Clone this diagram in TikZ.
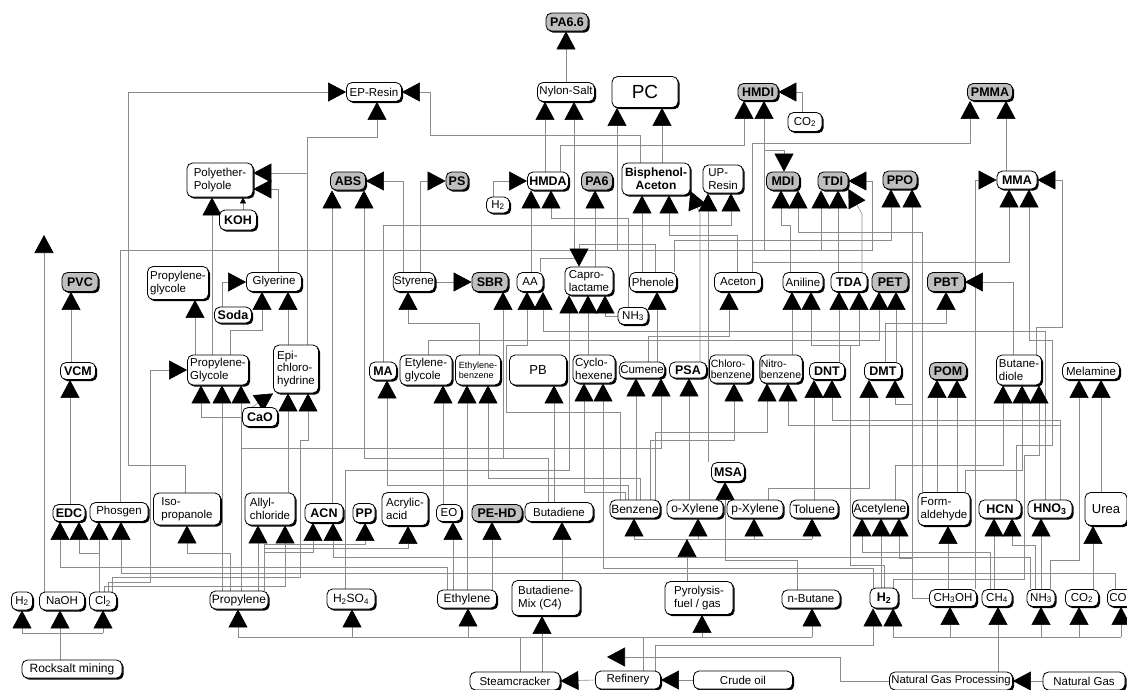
\documentclass[tikz,border=0pt]{standalone}
\usepackage{fontspec}
\setmainfont{Liberation Sans}
\usetikzlibrary{arrows.meta,shadows,backgrounds}
\tikzset{
  nbox/.style={draw=black, line width=0.8pt, rounded corners=5.5pt, fill=white, inner sep=1pt, align=left,
    font=\fontsize{11.5}{12.5}\selectfont,
    general shadow={shadow xshift=1.7pt, shadow yshift=-1.7pt, fill=black}},
  pbox/.style={nbox, fill=black!25},
  bb/.style={font=\bfseries\fontsize{12.5}{13.5}\selectfont},
  bigf/.style={font=\fontsize{12}{13}\selectfont},
  sz/.style 2 args={minimum width=#1pt, minimum height=#2pt},
  conn/.style={draw=black!45, line width=0.6pt, -{Triangle[length=18pt,width=19pt,color=black]}},
  wire/.style={draw=black!45, line width=0.6pt},
  smallarr/.style={draw=black!45, line width=0.6pt, -{Triangle[length=6pt,width=6pt,color=black]}},
}
\begin{document}
\begin{tikzpicture}[x=1pt,y=-1pt]
\useasboundingbox (0,0) rectangle (1127,689);
% ---------- row 1
\node[pbox,bb,sz={42}{18}] (PA66) at (567,22) {PA6.6};
\node[nbox,sz={55}{19}] (EPR) at (374,92) {EP-Resin};
\node[nbox,sz={57}{19}] (NYL) at (566,92) {Nylon-Salt};
\node[nbox,sz={66}{31},font=\fontsize{19}{20}\selectfont,align=center] (PC) at (645,92) {PC};
\node[pbox,bb,sz={40}{17}] (HMDI) at (758,92) {HMDI};
\node[nbox,sz={34}{19}] (CO2a) at (805,122) {CO\textsubscript{2}};
\node[pbox,bb,sz={45}{17}] (PMMA) at (990,92) {PMMA};
% ---------- row 2
\node[nbox,sz={66}{34}] (PEP) at (220,180) {Polyether-\\Polyole};
\node[nbox,bb,sz={37}{20}] (KOH) at (238,220) {KOH};
\node[pbox,bb,sz={35}{18}] (ABS) at (348,181) {ABS};
\node[pbox,bb,sz={22}{18}] (PS) at (457,181) {PS};
\node[nbox,bb,sz={41}{18}] (HMDA) at (548,181) {HMDA};
\node[nbox,sz={23}{16}] (H2a) at (498,205) {H\textsubscript{2}};
\node[pbox,bb,sz={31}{18}] (PA6) at (597,181) {PA6};
\node[nbox,sz={68}{32},align=center,font=\bfseries\fontsize{12}{13}\selectfont] (BPA) at (656,179) {Bisphenol-\\Aceton};
\node[nbox,sz={40}{28}] (UPR) at (723,179) {UP-\\Resin};
\node[pbox,bb,sz={33}{18}] (MDI) at (783,181) {MDI};
\node[pbox,bb,sz={30}{18}] (TDI) at (833,181) {TDI};
\node[pbox,bb,sz={34}{18}] (PPO) at (900,180) {PPO};
\node[nbox,bb,sz={40}{18}] (MMA) at (1017,180) {MMA};
% ---------- row 3
\node[pbox,bb,sz={36}{19}] (PVC) at (80,282) {PVC};
\node[nbox,sz={61}{33}] (PGa) at (178,283) {Propylene-\\glycole};
\node[nbox,sz={55}{19}] (GLY) at (274,282) {Glyerine};
\node[nbox,bb,sz={37}{16}] (SODA) at (233,315) {Soda};
\node[nbox,sz={40}{19}] (STY) at (414,282) {Styrene};
\node[pbox,bb,sz={36}{19}] (SBR) at (490,282) {SBR};
\node[nbox,sz={26}{19}] (AA) at (530,282) {AA};
\node[nbox,sz={48}{28}] (CAP) at (589,281) {Capro-\\lactame};
\node[nbox,sz={30}{17}] (NH3a) at (633,316) {NH\textsubscript{3}};
\node[nbox,sz={47}{19}] (PHE) at (653,282) {Phenole};
\node[nbox,sz={47}{19}] (ACE) at (738,282) {Aceton};
\node[nbox,sz={40}{19}] (ANI) at (803,282) {Aniline};
\node[nbox,bb,sz={36}{19}] (TDA) at (849,282) {TDA};
\node[pbox,bb,sz={36}{19}] (PET) at (890,282) {PET};
\node[pbox,bb,sz={37}{19}] (PBT) at (946,282) {PBT};
% ---------- row 4
\node[nbox,bb,sz={35}{17}] (VCM) at (78,371) {VCM};
\node[nbox,sz={61}{30}] (PGb) at (218,370) {Propylene-\\Glycole};
\node[nbox,sz={45}{48}] (EPI) at (296,369) {Epi-\\chloro-\\hydrine};
\node[nbox,bb,sz={35}{19}] (CAO) at (260,417) {CaO};
\node[nbox,bb,sz={27}{18}] (MA) at (383,371) {MA};
\node[nbox,sz={52}{30}] (EG) at (426,370) {Etylene-\\glycole};
\node[nbox,sz={45}{30},font=\fontsize{9}{10}\selectfont] (EB) at (478,370) {Ethylene-\\benzene};
\node[nbox,sz={57}{30},align=center,font=\fontsize{13}{14}\selectfont] (PB) at (538,370) {PB};
\node[nbox,sz={42}{28}] (CYC) at (594,369) {Cyclo-\\hexene};
\node[nbox,sz={45}{16}] (CUM) at (642,370) {Cumene};
\node[nbox,bb,sz={37}{16}] (PSA) at (688,370) {PSA};
\node[nbox,sz={43}{28},font=\fontsize{10.5}{11.5}\selectfont] (CLB) at (731,369) {Chloro-\\benzene};
\node[nbox,sz={42}{28},font=\fontsize{10.5}{11.5}\selectfont] (NIB) at (781,369) {Nitro-\\benzene};
\node[nbox,bb,sz={35}{17}] (DNT) at (827,371) {DNT};
\node[nbox,bb,sz={37}{17}] (DMT) at (883,371) {DMT};
\node[pbox,bb,sz={37}{17}] (POM) at (948,371) {POM};
\node[nbox,sz={45}{30}] (BDO) at (1019,370) {Butane-\\diole};
\node[nbox,sz={57}{17}] (MEL) at (1091,371) {Melamine};
\node[nbox,bb,sz={33}{19}] (MSA) at (728,472) {MSA};
% ---------- row 5
\node[nbox,bb,sz={32}{17}] (EDC) at (69,513) {EDC};
\node[nbox,sz={58}{19}] (PHO) at (119,512) {Phosgen};
\node[nbox,sz={67}{32}] (IPA) at (187,509) {Iso-\\propanole};
\node[nbox,sz={50}{32}] (ALC) at (270,509) {Allyl-\\chloride};
\node[nbox,bb,sz={38}{19}] (ACN) at (324,513) {ACN};
\node[nbox,bb,sz={22}{19}] (PP) at (364,513) {PP};
\node[nbox,sz={46}{33}] (ACR) at (405,509) {Acrylic-\\acid};
\node[nbox,sz={25}{17}] (EO) at (449,513) {EO};
\node[pbox,bb,sz={50}{17}] (PEHD) at (497,513) {PE-HD};
\node[nbox,sz={68}{19}] (BUT) at (559,512) {Butadiene};
\node[nbox,bigf,sz={50}{18}] (BEN) at (635,509) {Benzene};
\node[nbox,bigf,sz={56}{18}] (OXY) at (695,509) {o-Xylene};
\node[nbox,bigf,sz={56}{18}] (PXY) at (755,509) {p-Xylene};
\node[nbox,bigf,sz={48}{18}] (TOL) at (814,509) {Toluene};
\node[nbox,bigf,sz={55}{18}] (ACT) at (880,509) {Acetylene};
\node[nbox,sz={52}{33}] (FOR) at (944,509) {Form-\\aldehyde};
\node[nbox,bb,sz={42}{18}] (HCN) at (1000,509) {HCN};
\node[nbox,bb,sz={44}{18}] (HNO3) at (1050,509) {HNO\textsubscript{3}};
\node[nbox,sz={42}{33},align=center,font=\fontsize{13}{14}\selectfont] (UREA) at (1106,509) {Urea};
% ---------- row 6
\node[nbox,sz={21}{18}] (H2b) at (22,601) {H\textsubscript{2}};
\node[nbox,sz={45}{18}] (NAOH) at (62,601) {NaOH};
\node[nbox,sz={27}{18}] (CL2) at (103,601) {Cl\textsubscript{2}};
\node[nbox,sz={100}{18},font=\fontsize{12}{13}\selectfont] (ROCK) at (72,669) {Rocksalt mining};
\node[nbox,bigf,sz={58}{18}] (PROP) at (239,600) {Propylene};
\node[nbox,bigf,sz={48}{20}] (H2SO4) at (351,599) {H\textsubscript{2}SO\textsubscript{4}};
\node[nbox,bigf,sz={59}{18}] (ETH) at (467,599) {Ethylene};
\node[nbox,sz={68}{35}] (BMIX) at (546,598) {Butadiene-\\Mix (C4)};
\node[nbox,sz={68}{33}] (PYR) at (699,598) {Pyrolysis-\\fuel / gas};
\node[nbox,sz={58}{18}] (NBU) at (811,599) {n-Butane};
\node[nbox,bb,sz={28}{20}] (H2c) at (884,598) {H\textsubscript{2}};
\node[nbox,sz={47}{17}] (MEOH) at (953,598) {CH\textsubscript{3}OH};
\node[nbox,sz={30}{17}] (CH4) at (997,598) {CH\textsubscript{4}};
\node[nbox,sz={28}{17}] (NH3b) at (1041,598) {NH\textsubscript{3}};
\node[nbox,sz={33}{17}] (CO2b) at (1082,598) {CO\textsubscript{2}};
\node[nbox,minimum height=17pt,text width=30pt,inner sep=2pt,anchor=west] (CO) at (1107,598) {CO};
% ---------- row 7
\node[nbox,sz={90}{18}] (STC) at (515,681) {Steamcracker};
\node[nbox,sz={65}{18}] (REF) at (628,680) {Refinery};
\node[nbox,sz={99}{18}] (CRU) at (743,680) {Crude oil};
\node[nbox,sz={123}{18},font=\fontsize{11.3}{12}\selectfont] (NGP) at (951,681) {Natural Gas Processing};
\node[nbox,sz={82}{18}] (NG) at (1084,681) {Natural Gas};
% ---------- free ends
\coordinate (lone) at (44,235);
\coordinate (rk) at (60,633);
\coordinate (arb) at (687,539);
\coordinate (b3) at (643,637);
\coordinate (b4) at (893,637);
\coordinate (la) at (607,657);

\begin{scope}[on background layer]
\fill[white] (0,0) rectangle (1127,689);
% top
\draw[conn] (566,0 |- NYL.north) -- (566,0 |- PA66.south);
\draw[conn] (545,0 |- HMDA.north) -- (545,0 |- NYL.south);
\draw[conn] (540,0 |- AA.north) -- (540,258) -- (574,258) -- (574,0 |- NYL.south);
\draw[conn] (185,0 |- IPA.north) -- (185,465) -- (128,465) -- (128,92) -- (EPR.west);
\draw[conn] (640,0 |- BPA.north) -- (640,135) -- (430,135) -- (430,92) -- (EPR.east);
\draw[conn] (307,0 |- EPI.north) -- (307,137) -- (377,137) -- (377,0 |- EPR.south);
\draw[conn] (662,0 |- BPA.north) -- (662,0 |- PC.south);
\draw[conn] (120,0 |- PHO.north) -- (120,250) -- (617,250) -- (617,0 |- PC.south);
\draw[conn] (120,0 |- PHO.north) -- (120,250) -- (764,250) -- (764,0 |- HMDI.south);
\draw[conn] (560,0 |- HMDA.north) -- (560,145) -- (744,145) -- (744,0 |- HMDI.south);
\draw[conn] (120,0 |- PHO.north) -- (120,250) -- (764,250) -- (764,150) -- (784,150) -- (784,0 |- MDI.north);
\draw[conn] (120,0 |- PHO.north) -- (120,250) -- (821,250) -- (821,0 |- TDI.south);
\draw[conn] (120,0 |- PHO.north) -- (120,250) -- (872,250) -- (872,181) -- (TDI.east);
\draw[conn] (802,0 |- CO2a.north) -- (802,92) -- (HMDI.east);
\draw[conn] (752,0 |- ACE.north) -- (752,143) -- (970,143) -- (970,0 |- PMMA.south);
\draw[conn] (1006,0 |- MMA.north) -- (1006,0 |- PMMA.south);
% row 2 targets
\draw[conn] (212,0 |- PGb.north) -- (212,0 |- PEP.south);
\draw[smallarr] (243,0 |- KOH.north) -- (243,0 |- PEP.south);
\draw[conn] (307,0 |- EPI.north) -- (307,173) -- ([yshift=7pt]PEP.east);
\draw[conn] (278,0 |- GLY.north) -- (278,189) -- ([yshift=-9pt]PEP.east);
\draw[conn] (403,0 |- STY.north) -- (403,181) -- (ABS.east);
\draw[conn] (420,0 |- STY.north) -- (420,181) -- (PS.west);
\draw[conn] (332,0 |- ACN.north) -- (332,0 |- ABS.south);
\draw[conn] (548,0 |- BUT.north) -- (548,458) -- (364,458) -- (364,0 |- ABS.south);
\draw[conn] (493,0 |- H2a.north) -- (493,181) -- (HMDA.west);
\draw[conn] (531,0 |- AA.north) -- (531,0 |- HMDA.south);
\draw[conn] (628,0 |- NH3a.north) -- (628,218) -- (551,218) -- (551,0 |- HMDA.south);
\draw[conn] (595,0 |- CAP.north) -- (595,0 |- PA6.south);
\draw[conn] (642,0 |- PHE.north) -- (642,0 |- BPA.south);
\draw[conn] (737,0 |- ACE.north) -- (737,235) -- (669,235) -- (669,0 |- BPA.south);
\draw[conn] (700,0 |- PSA.north) -- (700,214) -- ([yshift=-12pt]BPA.east);
\draw[conn] (708,0 |- MSA.north) -- (708,0 |- UPR.south);
\draw[conn] (383,0 |- MA.north) -- (383,225) -- (731,225) -- (731,0 |- UPR.south);
\draw[conn] (790,0 |- ANI.north) -- (790,225) -- (781,225) -- (781,0 |- MDI.south);
\draw[conn] (922,0 |- FOR.north) -- (922,232) -- (798,232) -- (798,0 |- MDI.south);
\draw[conn] (838,0 |- TDA.north) -- (838,0 |- TDI.south);
\draw[conn] (862,0 |- TDA.north) -- (862,214) -- ([yshift=-8pt]TDI.east);
\draw[conn] (674,0 |- PHE.north) -- (674,240) -- (891,240) -- (891,0 |- PPO.south);
\draw[conn] (MEOH.west) -- (912,598) -- (912,0 |- PPO.south);
\draw[conn] (752,0 |- ACE.north) -- (752,262) -- (1009,262) -- (1009,0 |- MMA.south);
\draw[conn] (1016,0 |- HCN.north) -- (1016,445) -- (1052,445) -- (1052,340) -- (1029,340) -- (1029,0 |- MMA.south);
\draw[conn] (1036,0 |- BDO.north) -- (1036,327) -- (1062,327) -- (1062,180) -- (MMA.east);
\draw[conn] (975,0 |- MEOH.north) -- (975,180) -- (MMA.west);
% row 3 targets
\draw[conn] (71,0 |- VCM.north) -- (71,0 |- PVC.south);
\draw[conn] (195,0 |- PGb.north) -- (195,0 |- PGa.south);
\draw[conn] (222,0 |- SODA.north) -- (222,282) -- (GLY.west);
\draw[conn] (230,0 |- PGb.north) -- (230,330) -- (262,330) -- (262,0 |- GLY.south);
\draw[conn] (288,0 |- EPI.north) -- (288,0 |- GLY.south);
\draw[conn] (479,0 |- EB.north) -- (479,323) -- (408,323) -- (408,0 |- STY.south);
\draw[conn] (STY.east) -- (SBR.west);
\draw[conn] (548,0 |- BUT.north) -- (548,458) -- (503,458) -- (503,0 |- SBR.south);
\draw[conn] (620,0 |- BEN.north) -- (620,412) -- (506,412) -- (506,345) -- (527,345) -- (527,0 |- AA.south);
\draw[conn] (1045,0 |- HNO3.north) -- (1045,331) -- (543,331) -- (543,0 |- AA.south);
\draw[conn] (NH3a.west) -- (605,316) -- (605,0 |- CAP.south);
\draw[conn] (588,0 |- CYC.north) -- (588,0 |- CAP.south);
\draw[conn] (345,0 |- H2SO4.north) -- (345,470) -- (569,470) -- (569,0 |- CAP.south);
\draw[conn] (655,0 |- PHE.north) -- (655,244) -- (579,244) -- (579,0 |- CAP.north);
\draw[conn] (657,0 |- CUM.north) -- (657,0 |- PHE.south);
\draw[conn] (648,0 |- CUM.north) -- (648,336) -- (729,336) -- (729,0 |- ACE.south);
\draw[conn] (792,0 |- NIB.north) -- (792,0 |- ANI.south);
\draw[conn] (884,0 |- H2c.north) -- (884,565) -- (850,565) -- (850,345) -- (811,345) -- (811,0 |- ANI.south);
\draw[conn] (884,0 |- H2c.north) -- (884,565) -- (850,565) -- (850,345) -- (859,345) -- (859,0 |- TDA.south);
\draw[conn] (839,0 |- DNT.north) -- (839,0 |- TDA.south);
\draw[conn] (428,0 |- EG.north) -- (428,340) -- (879,340) -- (879,0 |- PET.south);
\draw[conn] (896,0 |- DMT.north) -- (896,0 |- PET.south);
\draw[conn] (885,0 |- DMT.north) -- (885,323) -- (946,323) -- (946,0 |- PBT.south);
\draw[conn] (1013,0 |- BDO.north) -- (1013,282) -- (PBT.east);
% row 4 targets
\draw[conn] (70,0 |- EDC.north) -- (70,0 |- VCM.south);
\draw[conn] (108,0 |- CL2.north) -- (108,582) -- (150,582) -- (150,370) -- (PGb.west);
\draw[conn] (CAO.west) -- (201,417) -- (201,0 |- PGb.south);
\draw[conn] (222,0 |- PROP.north) -- (222,0 |- PGb.south);
\draw[conn] (241,0 |- PROP.north) -- (241,0 |- PGb.south);
\draw[conn] (288,0 |- ALC.north) -- (288,0 |- EPI.south);
\draw[conn] (112,0 |- CL2.north) -- (112,577) -- (300,577) -- (300,440) -- (308,440) -- (308,0 |- EPI.south);
\draw[conn] ([xshift=-8pt]CAO.north) -- (EPI.south west);
\draw[conn] (628,0 |- BEN.north) -- (628,485) -- (387,485) -- (387,0 |- MA.south);
\draw[conn] (443,0 |- EO.north) -- (443,0 |- EG.south);
\draw[conn] (467,0 |- ETH.north) -- (467,0 |- EB.south);
\draw[conn] (640,0 |- BEN.north) -- (640,478) -- (488,478) -- (488,0 |- EB.south);
\draw[conn] (554,0 |- BUT.north) -- (554,0 |- PB.south);
\draw[conn] (625,0 |- BEN.north) -- (625,492) -- (584,492) -- (584,0 |- CYC.south);
\draw[conn] (873,0 |- H2c.north) -- (873,568) -- (603,568) -- (603,0 |- CYC.south);
\draw[conn] (636,0 |- BEN.north) -- (636,0 |- CUM.south);
\draw[conn] (241,0 |- PROP.north) -- (241,448) -- (661,448) -- (661,0 |- CUM.south);
\draw[conn] (689,0 |- OXY.north) -- (689,0 |- PSA.south);
\draw[conn] (650,0 |- BEN.north) -- (650,440) -- (734,440) -- (734,0 |- CLB.south);
\draw[conn] (655,0 |- BEN.north) -- (655,432) -- (767,432) -- (767,0 |- NIB.south);
\draw[conn] (1060,0 |- HNO3.north) -- (1060,425) -- (788,425) -- (788,0 |- NIB.south);
\draw[conn] (814,0 |- TOL.north) -- (814,0 |- DNT.south);
\draw[conn] (1060,0 |- HNO3.north) -- (1060,420) -- (832,420) -- (832,0 |- DNT.south);
\draw[conn] (768,0 |- PXY.north) -- (768,488) -- (869,488) -- (869,0 |- DMT.south);
\draw[conn] (MEOH.west) -- (912,598) -- (912,404) -- (895,404) -- (895,0 |- DMT.south);
\draw[conn] (937,0 |- FOR.north) -- (937,0 |- POM.south);
\draw[conn] (957,0 |- FOR.north) -- (957,0 |- POM.south);
\draw[conn] (895,0 |- ACT.north) -- (895,465) -- (1003,465) -- (1003,0 |- BDO.south);
\draw[conn] (965,0 |- FOR.north) -- (965,470) -- (1022,470) -- (1022,0 |- BDO.south);
\draw[conn] (893,0 |- H2c.north) -- (893,579) -- (1024,579) -- (1024,455) -- (1039,455) -- (1039,0 |- BDO.south);
\draw[conn] (1101,0 |- UREA.north) -- (1101,0 |- MEL.south);
\draw[conn] (1050,0 |- NH3b.north) -- (1050,560) -- (1079,560) -- (1079,0 |- MEL.south);
\draw[conn] (797,0 |- NBU.north) -- (797,560) -- (725,560) -- (725,0 |- MSA.south);
% row 5 targets
\draw[conn] (447,0 |- ETH.north) -- (447,567) -- (60,567) -- (60,0 |- EDC.south);
\draw[conn] (99,0 |- CL2.north) -- (99,553) -- (79,553) -- (79,0 |- EDC.south);
\draw[conn] (99,0 |- CL2.north) -- (99,0 |- PHO.south);
\draw[conn] (1115,0 |- CO.north) -- (1115,573) -- (121,573) -- (121,0 |- PHO.south);
\draw[conn] (230,0 |- PROP.north) -- (230,553) -- (187,553) -- (187,0 |- IPA.south);
\draw[conn] (258,0 |- PROP.north) -- (258,0 |- ALC.south);
\draw[conn] (104,0 |- CL2.north) -- (104,586) -- (285,586) -- (285,0 |- ALC.south);
\draw[conn] (264,0 |- PROP.north) -- (264,552) -- (313,552) -- (313,0 |- ACN.south);
\draw[conn] (1030,0 |- NH3b.north) -- (1030,557) -- (333,557) -- (333,0 |- ACN.south);
\draw[conn] (264,0 |- PROP.north) -- (264,544) -- (365,544) -- (365,0 |- PP.south);
\draw[conn] (264,0 |- PROP.north) -- (264,548) -- (408,548) -- (408,0 |- ACR.south);
\draw[conn] (453,0 |- ETH.north) -- (453,0 |- EO.south);
\draw[conn] (492,0 |- ETH.north) -- (492,0 |- PEHD.south);
\draw[conn] (562,0 |- BMIX.north) -- (562,0 |- BUT.south);
\draw[wire] (634,0 |- arb) -- (812,0 |- arb);
\draw[conn] (687,0 |- PYR.north) -- (arb);
\draw[conn] (634,0 |- arb) -- (634,0 |- BEN.south);
\draw[conn] (698,0 |- arb) -- (698,0 |- OXY.south);
\draw[conn] (754,0 |- arb) -- (754,0 |- PXY.south);
\draw[conn] (812,0 |- arb) -- (812,0 |- TOL.south);
\draw[conn] (990,0 |- CH4.north) -- (990,552) -- (862,552) -- (862,0 |- ACT.south);
\draw[conn] (881,0 |- H2c.north) -- (881,0 |- ACT.south);
\draw[conn] (MEOH.west) -- (912,598) -- (912,558) -- (899,558) -- (899,0 |- ACT.south);
\draw[conn] (948,0 |- MEOH.north) -- (948,0 |- FOR.south);
\draw[conn] (994,0 |- CH4.north) -- (994,0 |- HCN.south);
\draw[conn] (1035,0 |- NH3b.north) -- (1035,545) -- (1012,545) -- (1012,0 |- HCN.south);
\draw[conn] (1041,0 |- NH3b.north) -- (1041,0 |- HNO3.south);
\draw[conn] (1093,0 |- CO2b.north) -- (1093,0 |- UREA.south);
% row 6 targets
\draw[wire] (ROCK.north -| rk) -- (rk);
\draw[wire] (22,0 |- rk) -- (103,0 |- rk);
\draw[conn] (22,0 |- rk) -- (22,0 |- H2b.south);
\draw[conn] (rk) -- (60,0 |- NAOH.south);
\draw[conn] (103,0 |- rk) -- (103,0 |- CL2.south);
\draw[conn] (44,0 |- NAOH.north) -- (lone);
\draw[wire] (238,0 |- b3) -- (812,0 |- b3);
\draw[wire] (643,0 |- REF.north) -- (b3);
\draw[wire] (520,0 |- STC.north) -- (520,0 |- b3);
\draw[conn] (238,0 |- b3) -- (238,0 |- PROP.south);
\draw[conn] (352,0 |- b3) -- (352,0 |- H2SO4.south);
\draw[conn] (468,0 |- b3) -- (468,0 |- ETH.south);
\draw[conn] (542,0 |- STC.north) -- (542,0 |- BMIX.south);
\draw[conn] (702,0 |- b3) -- (702,0 |- PYR.south);
\draw[conn] (812,0 |- b3) -- (812,0 |- NBU.south);
\draw[wire] (b4) -- (1121,0 |- b4);
\draw[conn] (998,0 |- NGP.north) -- (998,0 |- CH4.south);
\draw[conn] (b4) -- (893,0 |- H2c.south);
\draw[conn] (950,0 |- b4) -- (950,0 |- MEOH.south);
\draw[conn] (1041,0 |- b4) -- (1041,0 |- NH3b.south);
\draw[conn] (1079,0 |- b4) -- (1079,0 |- CO2b.south);
\draw[conn] (1121,0 |- b4) -- (1121,0 |- CO.south);
\draw[conn] (655,0 |- REF.north) -- (655,645) -- (873,645) -- (873,0 |- H2c.south);
% bottom
\draw[conn] (CRU.west) -- (REF.east);
\draw[conn] (REF.west) -- (STC.east);
\draw[conn] (NG.west) -- (NGP.east);
\draw[conn] (NGP.west) -- (840,681) -- (840,657) -- (la);
\end{scope}
\end{tikzpicture}
\end{document}
